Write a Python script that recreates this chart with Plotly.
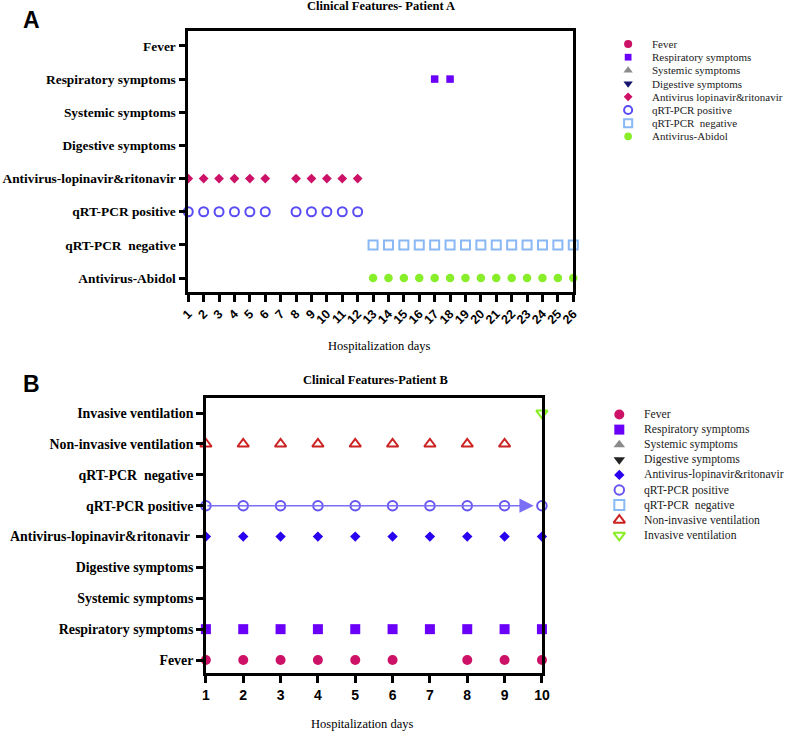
import plotly.graph_objects as go

W, H = 787, 732
SERIF = "Liberation Serif"
SANS = "Liberation Sans"

# ---------------- data: patient A ----------------
cats_a = ["Fever", "Respiratory symptoms", "Systemic symptoms", "Digestive symptoms",
          "Antivirus-lopinavir&ritonavir", "qRT-PCR positive", "qRT-PCR\u00a0 negative",
          "Antivirus-Abidol"]
days_a = list(range(1, 27))
a_fever = []
a_respiratory = [17, 18]
a_systemic = []
a_digestive = []
a_lopinavir = [1, 2, 3, 4, 5, 6, 8, 9, 10, 11, 12]
a_pcr_pos = [1, 2, 3, 4, 5, 6, 8, 9, 10, 11, 12]
a_pcr_neg = [13, 14, 15, 16, 17, 18, 19, 20, 21, 22, 23, 24, 25, 26]
a_abidol = [13, 14, 15, 16, 17, 18, 19, 20, 21, 22, 23, 24, 25, 26]
legend_a = ["Fever", "Respiratory symptoms", "Systemic symptoms", "Digestive symptoms",
            "Antivirus lopinavir&ritonavir", "qRT-PCR positive", "qRT-PCR\u00a0 negative",
            "Antivirus-Abidol"]

# ---------------- data: patient B ----------------
cats_b = ["Fever", "Respiratory symptoms", "Systemic symptoms", "Digestive symptoms",
          "Antivirus-lopinavir&ritonavir\u00a0", "qRT-PCR positive", "qRT-PCR\u00a0 negative",
          "Non-invasive ventilation", "Invasive ventilation"]
days_b = list(range(1, 11))
b_fever = [1, 2, 3, 4, 5, 6, 8, 9, 10]
b_respiratory = [1, 2, 3, 4, 5, 6, 7, 8, 9, 10]
b_systemic = []
b_digestive = []
b_lopinavir = [1, 2, 3, 4, 5, 6, 7, 8, 9, 10]
b_pcr_pos = [1, 2, 3, 4, 5, 6, 7, 8, 9, 10]
b_pcr_neg = []
b_noninvasive = [1, 2, 3, 4, 5, 6, 7, 8, 9]
b_invasive = [10]
legend_b = ["Fever", "Respiratory symptoms", "Systemic symptoms", "Digestive symptoms",
            "Antivirus-lopinavir&ritonavir", "qRT-PCR positive", "qRT-PCR\u00a0 negative",
            "Non-invasive ventilation", "Invasive ventilation"]
arrow_end_b = 9.78  # qRT-PCR positive arrow tip (day)

# ---------------- styles (symbol, colour, size, open line width) ----------------
style_a = [("circle", "#cc1166", 9, 0),
           ("square", "#6a00f8", 7.5, 0),
           ("triangle-up", "#8c8c8c", 9, 0),
           ("triangle-down", "#15156e", 9, 0),
           ("diamond", "#cc1166", 7.5, 0),
           ("circle-open", "#5a4cf5", 9, 2),
           ("square-open", "#8ab8f5", 9, 2),
           ("circle", "#88ee2a", 8.5, 0)]
style_b = [("circle", "#cc1166", 10, 0),
           ("square", "#6a00f8", 10, 0),
           ("triangle-up", "#8a8a8a", 10, 0),
           ("triangle-down", "#222222", 10, 0),
           ("diamond", "#2a00f0", 8, 0),
           ("circle-open", "#6655ee", 9.5, 2),
           ("square-open", "#88bbf5", 10, 2),
           ("triangle-up-open", "#cc2222", 10, 2),
           ("triangle-down-open", "#88ee22", 10, 2)]

series_a = [a_fever, a_respiratory, a_systemic, a_digestive,
            a_lopinavir, a_pcr_pos, a_pcr_neg, a_abidol]
series_b = [b_fever, b_respiratory, b_systemic, b_digestive,
            b_lopinavir, b_pcr_pos, b_pcr_neg, b_noninvasive, b_invasive]

fig = go.Figure()


def add_series(days, idx, style, xa, ya):
    sym, col, size, lw = style
    if not days:
        return
    fig.add_trace(go.Scatter(
        x=days, y=[idx] * len(days), mode="markers", xaxis=xa, yaxis=ya,
        marker=dict(symbol=sym, color=col, size=size,
                    line=dict(width=lw, color=col)),
        cliponaxis=False, showlegend=False, hoverinfo="skip"))


# qRT-PCR positive connecting arrow in panel B
fig.add_annotation(x=arrow_end_b, y=cats_b.index("qRT-PCR positive"), xref="x2", yref="y2",
                   ax=days_b[0], ay=cats_b.index("qRT-PCR positive"), axref="x2", ayref="y2",
                   text="", showarrow=True, arrowhead=2, arrowsize=1.9, arrowwidth=1.5,
                   arrowcolor="#7a6ff5", standoff=0, startstandoff=0)

for i, d in enumerate(series_a):
    add_series(d, i, style_a[i], "x", "y")
for i, d in enumerate(series_b):
    add_series(d, i, style_b[i], "x2", "y2")


# ---------------- manual legends (overlay pixel axes) ----------------
def add_legend(labels, styles, mx, tx, top, step, scale, fsize):
    ys = [top + i * step for i in range(len(labels))]
    for y, lab, (sym, col, size, lw) in zip(ys, labels, styles):
        fig.add_trace(go.Scatter(
            x=[mx], y=[y], mode="markers", xaxis="x3", yaxis="y3",
            marker=dict(symbol=sym, color=col, size=size * scale,
                        line=dict(width=lw, color=col)),
            cliponaxis=False, showlegend=False, hoverinfo="skip"))
        fig.add_annotation(x=tx, y=y, xref="x3", yref="y3", text=lab, showarrow=False,
                           xanchor="left", yanchor="middle",
                           font=dict(family=SERIF, size=fsize, color="#222222"))


add_legend(legend_a, style_a, 633, 655, 44, 13.2, 0.9, 11)
add_legend(legend_b, style_b, 624, 647, 414.5, 15.1, 1.0, 11.7)

# ---------------- axes ----------------
line_w = 2.5
common = dict(showline=True, linecolor="black", linewidth=line_w, mirror=True,
              showgrid=False, zeroline=False, ticks="outside", ticklen=7,
              tickwidth=line_w, tickcolor="black")


def px_x(a, b):
    return [a / W, b / W]


def px_y(top, bottom):
    return [1 - bottom / H, 1 - top / H]


fig.update_layout(
    width=W, height=H, margin=dict(l=0, r=0, t=0, b=0),
    paper_bgcolor="white", plot_bgcolor="rgba(0,0,0,0)", showlegend=False,
    xaxis=dict(domain=px_x(184, 577), anchor="y", range=[days_a[0], days_a[-1]],
               tickvals=days_a, tickangle=-45,
               tickfont=dict(family=SANS, size=12.5, color="black", weight="bold"), **common),
    yaxis=dict(domain=px_y(31, 292), anchor="x", range=[7.42, -0.45],
               tickvals=list(range(len(cats_a))), ticktext=cats_a,
               tickfont=dict(family=SERIF, size=13.4, color="black", weight="bold"), **common),
    xaxis2=dict(domain=px_x(202, 545), anchor="y2", range=[days_b[0], days_b[-1]],
                tickvals=days_b,
                tickfont=dict(family=SANS, size=14, color="black", weight="bold"), **common),
    yaxis2=dict(domain=px_y(398, 673), anchor="x2", range=[-0.42, 8.49],
                tickvals=list(range(len(cats_b))), ticktext=cats_b,
                tickfont=dict(family=SERIF, size=13.9, color="black", weight="bold"), **common),
    xaxis3=dict(domain=[0, 1], anchor="y3", range=[0, W], visible=False),
    yaxis3=dict(domain=[0, 1], anchor="x3", range=[H, 0], visible=False),
)


def paper_text(text, x, y, size, family, bold=False):
    fig.add_annotation(x=x / W, y=1 - y / H, xref="paper", yref="paper", text=text,
                       showarrow=False, xanchor="center", yanchor="middle",
                       font=dict(family=family, size=size, color="black",
                                 weight="bold" if bold else "normal"))


paper_text("Clinical Features- Patient A", 381, 6, 12.5, SERIF, True)
paper_text("Clinical Features-Patient B", 375, 380, 12.5, SERIF, True)
paper_text("A", 24, 20, 23, SANS, True)
paper_text("B", 24, 384, 23, SANS, True)
paper_text("Hospitalization days", 379, 346, 12.5, SERIF)
paper_text("Hospitalization days", 362, 724, 12.5, SERIF)

# drop the default page margin so the figure sits at the window's top-left corner
fig.write_html("out.html", config={"displayModeBar": False},
               post_script="document.body.style.margin='0';")
